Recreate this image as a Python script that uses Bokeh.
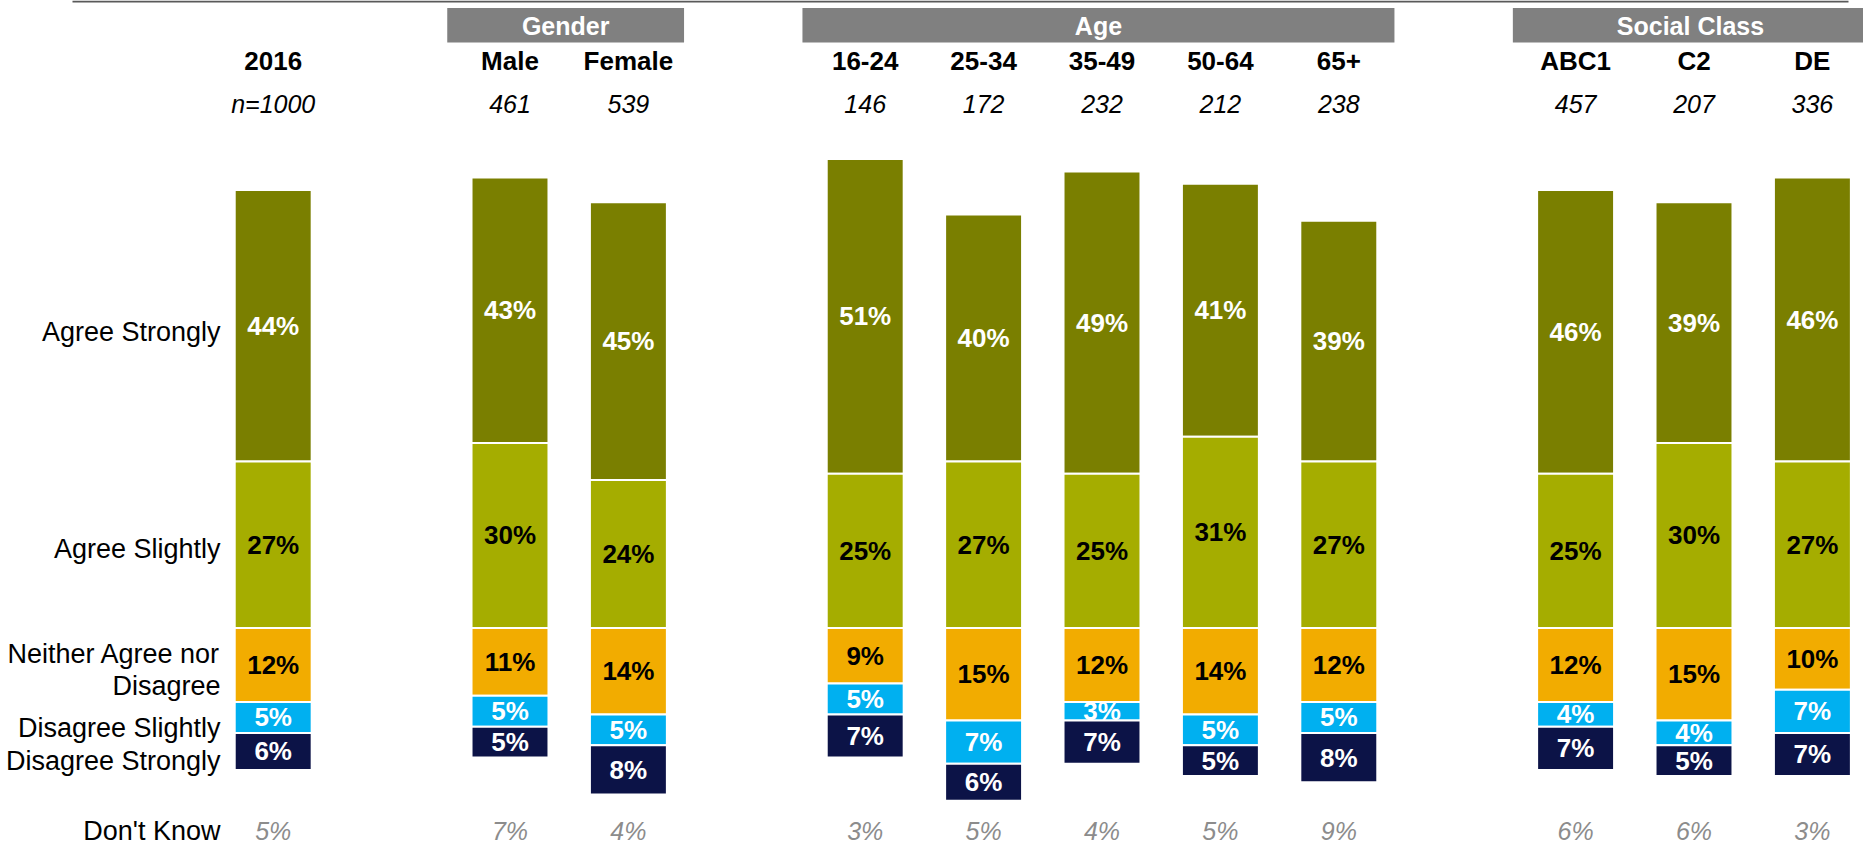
from bokeh.plotting import figure
from bokeh.models import ColumnDataSource, Range1d
from bokeh.core.properties import value
from bokeh.embed import file_html
from bokeh.resources import INLINE

# ---- data ----
categories = ["2016", "Male", "Female", "16-24", "25-34", "35-49", "50-64", "65+", "ABC1", "C2", "DE"]
bases = ["n=1000", "461", "539", "146", "172", "232", "212", "238", "457", "207", "336"]
agree_strongly = [44, 43, 45, 51, 40, 49, 41, 39, 46, 39, 46]
agree_slightly = [27, 30, 24, 25, 27, 25, 31, 27, 25, 30, 27]
neither = [12, 11, 14, 9, 15, 12, 14, 12, 12, 15, 10]
disagree_slightly = [5, 5, 5, 5, 7, 3, 5, 5, 4, 4, 7]
disagree_strongly = [6, 5, 8, 7, 6, 7, 5, 8, 7, 5, 7]
dont_know = [5, 7, 4, 3, 5, 4, 5, 9, 6, 6, 3]
row_labels = ["Agree Strongly", "Agree Slightly", "Neither Agree nor", "Disagree",
              "Disagree Slightly", "Disagree Strongly", "Don't Know"]
group_names = ["Gender", "Age", "Social Class"]
group_members = [["Male", "Female"], ["16-24", "25-34", "35-49", "50-64", "65+"], ["ABC1", "C2", "DE"]]

# ---- layout ----
slots = [0, 2, 3, 5, 6, 7, 8, 9, 11, 12, 13]
W, H = 1863, 849
OFF = 0
PX_SLOT = 118.4
PX_PCT = 6.17
BASE_Y = 627.5
x0 = -(272.7 - OFF) / PX_SLOT
y_top = (BASE_Y - OFF) / PX_PCT
y_bot = -(H - (BASE_Y - OFF)) / PX_PCT


def ydata(page_y):
    return (BASE_Y - page_y) / PX_PCT


def xdata(page_x):
    return x0 + (page_x - OFF) / PX_SLOT


p = figure(width=W, height=H, output_backend="svg", toolbar_location=None,
           x_range=Range1d(x0, x0 + W / PX_SLOT), y_range=Range1d(y_bot, y_top),
           min_border=0, x_axis_location=None, y_axis_location=None,
           background_fill_color="white", border_fill_color="white")
p.grid.visible = False
p.outline_line_color = None

FONT = value("Liberation Sans")

c_as = "#7A7F00"
c_asl = "#A5AD00"
c_n = "#F2AC00"
c_ds = "#00B0F0"
c_dst = "#0C1347"

n = len(categories)
asl_b = [0] * n
asl_t = [agree_slightly[i] for i in range(n)]
as_b = asl_t
as_t = [agree_slightly[i] + agree_strongly[i] for i in range(n)]
n_t = [0] * n
n_b = [-neither[i] for i in range(n)]
ds_t = n_b
ds_b = [-(neither[i] + disagree_slightly[i]) for i in range(n)]
dst_t = ds_b
dst_b = [-(neither[i] + disagree_slightly[i] + disagree_strongly[i]) for i in range(n)]

layers = [
    (agree_strongly, as_b, as_t, c_as, "white"),
    (agree_slightly, asl_b, asl_t, c_asl, "black"),
    (neither, n_b, n_t, c_n, "black"),
    (disagree_slightly, ds_b, ds_t, c_ds, "white"),
    (disagree_strongly, dst_b, dst_t, c_dst, "white"),
]

for vals, b, t, col, tcol in layers:
    src = ColumnDataSource(dict(x=slots, bottom=b, top=t,
                                mid=[(bb + tt) / 2 for bb, tt in zip(b, t)],
                                lab=[f"{v}%" for v in vals]))
    p.vbar(x="x", bottom="bottom", top="top", width=0.65, source=src,
           fill_color=col, line_color="white", line_width=2)
    p.text(x="x", y="mid", text="lab", source=src, text_align="center",
           text_baseline="middle", text_color=tcol, text_font=FONT,
           text_font_size="26px", text_font_style="bold")

# top rule
p.line(x=[xdata(72), xdata(1848)], y=[ydata(1), ydata(1)], line_color="#595959", line_width=2)

# group header boxes
pos = dict(zip(categories, slots))
for name, mem in zip(group_names, group_members):
    lo = min(pos[m] for m in mem) - 0.53
    hi = max(pos[m] for m in mem) + 0.47
    p.quad(left=[lo], right=[hi], top=[ydata(7.5)], bottom=[ydata(42)],
           fill_color="#808080", line_color=None)
    p.text(x=[(lo + hi) / 2], y=[ydata(25)], text=[name], text_align="center",
           text_baseline="middle", text_color="white", text_font=FONT,
           text_font_size="25px", text_font_style="bold")

# category and base labels
p.text(x=slots, y=[ydata(60)] * n, text=categories, text_align="center",
       text_baseline="middle", text_color="black", text_font=FONT,
       text_font_size="26px", text_font_style="bold")
p.text(x=slots, y=[ydata(103)] * n, text=bases, text_align="center",
       text_baseline="middle", text_color="black", text_font=FONT,
       text_font_size="25px", text_font_style="italic")

# don't know row
p.text(x=slots, y=[ydata(830.5)] * n, text=[f"{v}%" for v in dont_know], text_align="center",
       text_baseline="middle", text_color="#8C8C8C", text_font=FONT,
       text_font_size="25px", text_font_style="italic")

# row labels on the left
row_y = [ydata(v) for v in [331.5, 548, 653.5, 685.5, 727, 760, 830.5]]
p.text(x=[xdata(220)] * len(row_labels), y=row_y, text=row_labels, text_align="right",
       text_baseline="middle", text_color="black", text_font=FONT,
       text_font_size="27px")

open("out.html", "w").write(file_html(p, INLINE))
